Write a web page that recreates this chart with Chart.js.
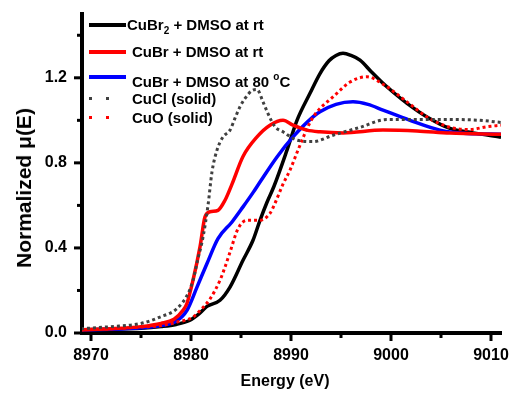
<!DOCTYPE html>
<html>
  <head>
    <script src="https://cdn.jsdelivr.net/npm/chart.js"></script>
    <meta charset="utf-8">
    <style>
      body { margin: 0; background: #fff; }
      .wrap { position: relative; width: 511px; height: 394px; font-family: Arial, "Liberation Sans", sans-serif; font-weight: bold; color: #000; }
      .wrap canvas { position: absolute; left: 0; top: 0; }
      .leg { position: absolute; font-size: 15px; line-height: 18px; white-space: nowrap; }
      .swatch { position: absolute; left: 89px; width: 37px; height: 4px; }
      .dot { position: absolute; width: 3px; height: 3px; }
      .ytitle { position: absolute; left: 24px; top: 188px; font-size: 21px; white-space: nowrap; transform: translate(-50%, -50%) rotate(-90deg); }
      .xtitle { position: absolute; left: 285px; top: 381px; font-size: 16px; white-space: nowrap; transform: translate(-50%, -50%); }
      sub { font-size: 10px; vertical-align: -4px; }
      sup { font-size: 10px; vertical-align: 7px; }
    </style>
  </head>
  <body>
    <div class="wrap">
      <canvas id="gura" width="511" height="394"></canvas>

      <!-- 凡例 -->
      <div class="swatch" style="top:23px;background:#000"></div>
      <div class="leg" style="left:127px;top:16px">CuBr<sub>2</sub> + DMSO at rt</div>
      <div class="swatch" style="top:50px;background:#ff0000"></div>
      <div class="leg" style="left:132px;top:43px">CuBr + DMSO at rt</div>
      <div class="swatch" style="top:75px;background:#0000ff"></div>
      <div class="leg" style="left:132px;top:68px">CuBr + DMSO at 80 <sup>o</sup>C</div>
      <div class="dot" style="left:89px;top:97px;background:#404040"></div>
      <div class="dot" style="left:106px;top:97px;background:#404040"></div>
      <div class="leg" style="left:132px;top:90px">CuCl (solid)</div>
      <div class="dot" style="left:89px;top:116px;background:#ff0000"></div>
      <div class="dot" style="left:106px;top:116px;background:#ff0000"></div>
      <div class="leg" style="left:132px;top:109px">CuO (solid)</div>

      <div class="ytitle">Normalized &mu;(E)</div>
      <div class="xtitle">Energy (eV)</div>
    </div>

    <script>
      // 目盛り
      const xMajorTicks = [8970, 8980, 8990, 9000, 9010];
      const xMinorTicks = [8975, 8985, 8995, 9005];
      const yMajorTicks = [0.0, 0.4, 0.8, 1.2];
      const yMinorTicks = [0.2, 0.6, 1.0, 1.4];

      // CuBr2 + DMSO at rt
      const cubr2E  = [8969, 8972, 8975, 8977, 8978.5, 8979.9, 8980.8, 8981.6, 8982.9, 8983.9, 8985.2, 8986.2, 8986.9, 8987.6, 8988.3, 8989.6, 8990.6, 8991.9, 8992.9, 8993.8, 8994.5, 8995.2, 8996.0, 8996.9, 8998.0, 8999.2, 9000.4, 9001.6, 9003.6, 9005.9, 9008.2, 9011];
      const cubr2Mu = [0.015, 0.018, 0.022, 0.03, 0.04, 0.06, 0.09, 0.125, 0.154, 0.216, 0.342, 0.436, 0.53, 0.615, 0.69, 0.86, 1.0, 1.127, 1.22, 1.28, 1.305, 1.315, 1.305, 1.283, 1.23, 1.174, 1.125, 1.08, 1.016, 0.962, 0.941, 0.92];

      // CuBr + DMSO at rt
      const cubrRtE  = [8969, 8972, 8975, 8977, 8978.3, 8979.2, 8979.6, 8980.2, 8980.9, 8981.4, 8981.9, 8982.7, 8983.4, 8984.1, 8985.2, 8986.6, 8987.9, 8989.2, 8990.2, 8991.6, 8992.9, 8995.2, 8999.2, 9002.6, 9005.9, 9011];
      const cubrRtMu = [0.015, 0.02, 0.03, 0.045, 0.065, 0.107, 0.14, 0.248, 0.405, 0.546, 0.57, 0.577, 0.624, 0.70, 0.83, 0.922, 0.977, 1.0, 0.977, 0.954, 0.946, 0.941, 0.954, 0.95, 0.94, 0.935];

      // CuBr + DMSO at 80 oC
      const cubr80E  = [8969, 8972, 8975, 8977, 8978.5, 8979.6, 8980.6, 8981.6, 8982.7, 8984.1, 8985.2, 8986.2, 8986.9, 8988.6, 8990.2, 8992.2, 8992.9, 8994.5, 8996.2, 8997.7, 8999.2, 9001.9, 9004.9, 9007.6, 9011];
      const cubr80Mu = [0.015, 0.018, 0.025, 0.035, 0.055, 0.107, 0.216, 0.327, 0.444, 0.522, 0.593, 0.66, 0.71, 0.828, 0.922, 1.016, 1.04, 1.075, 1.087, 1.075, 1.048, 1.0, 0.954, 0.938, 0.935];

      // CuCl (solid)
      const cuclE  = [8969, 8972, 8975, 8976.9, 8978.6, 8979.7, 8980.2, 8980.7, 8981.2, 8981.7, 8982.1, 8982.6, 8983.2, 8983.9, 8984.4, 8984.9, 8985.4, 8986.1, 8986.6, 8987.2, 8987.7, 8988.4, 8989.2, 8990.6, 8992.2, 8994.2, 8996.9, 8999.6, 9002.6, 9005.9, 9008.9, 9011];
      const cuclMu = [0.02, 0.03, 0.045, 0.075, 0.115, 0.185, 0.248, 0.35, 0.45, 0.6, 0.758, 0.86, 0.922, 0.954, 1.01, 1.064, 1.103, 1.14, 1.145, 1.087, 1.032, 0.97, 0.946, 0.907, 0.9, 0.93, 0.967, 1.004, 1.004, 1.004, 1.0, 0.99];

      // CuO (solid)
      const cuoE  = [8969, 8972, 8975, 8977, 8978.5, 8980.2, 8981.0, 8981.9, 8982.9, 8983.4, 8983.9, 8984.7, 8985.6, 8986.9, 8987.9, 8988.4, 8989.2, 8989.9, 8990.7, 8991.9, 8992.6, 8994.2, 8995.9, 8997.6, 8999.2, 9001.6, 9003.6, 9005.9, 9007.9, 9009.6, 9011];
      const cuoMu = [0.015, 0.02, 0.028, 0.035, 0.05, 0.075, 0.11, 0.16, 0.248, 0.31, 0.38, 0.49, 0.53, 0.53, 0.563, 0.61, 0.70, 0.766, 0.86, 0.99, 1.04, 1.11, 1.18, 1.205, 1.17, 1.087, 1.016, 0.967, 0.957, 0.97, 0.977];

      function toPoints(xs, ys) {
        return xs.map((x, i) => ({ x: x, y: ys[i] }));
      }

      function lineSet(label, xs, ys, color, dotted) {
        return {
          label: label,
          data: toPoints(xs, ys),
          showLine: true,
          borderColor: color,
          backgroundColor: color,
          borderWidth: dotted ? 3 : 3.5,
          borderDash: dotted ? [3, 3] : [],
          borderCapStyle: 'butt',
          pointRadius: 0,
          cubicInterpolationMode: 'monotone',
          fill: false
        };
      }

      // 目盛り線を自分で描く (大きい目盛りと小さい目盛り)
      const tickMarks = {
        id: 'tickMarks',
        afterDraw(chart) {
          const ctx = chart.ctx;
          const xs = chart.scales.x;
          const ys = chart.scales.y;
          const area = chart.chartArea;
          ctx.save();
          ctx.strokeStyle = '#000';
          const draw = (x1, y1, x2, y2, w) => {
            ctx.lineWidth = w;
            ctx.beginPath();
            ctx.moveTo(x1, y1);
            ctx.lineTo(x2, y2);
            ctx.stroke();
          };
          xMajorTicks.forEach(v => { const p = xs.getPixelForValue(v); draw(p, area.bottom, p, area.bottom + 8, 3); });
          xMinorTicks.forEach(v => { const p = xs.getPixelForValue(v); draw(p, area.bottom, p, area.bottom + 5, 3); });
          yMajorTicks.forEach(v => { const p = ys.getPixelForValue(v); draw(area.left, p, area.left - 8, p, 3); });
          yMinorTicks.forEach(v => { const p = ys.getPixelForValue(v); draw(area.left, p, area.left - 5, p, 3); });
          ctx.restore();
        }
      };

      const noPad = (scale) => {
        scale.paddingLeft = 0;
        scale.paddingRight = 0;
        scale.paddingTop = 0;
        scale.paddingBottom = 0;
      };

      const ctx = document.getElementById('gura').getContext('2d');
      new Chart(ctx, {
        type: 'scatter',
        data: {
          datasets: [
            lineSet('CuCl (solid)', cuclE, cuclMu, '#404040', true),
            lineSet('CuO (solid)', cuoE, cuoMu, '#ff0000', true),
            lineSet('CuBr + DMSO at rt', cubrRtE, cubrRtMu, '#ff0000', false),
            lineSet('CuBr + DMSO at 80 oC', cubr80E, cubr80Mu, '#0000ff', false),
            lineSet('CuBr2 + DMSO at rt', cubr2E, cubr2Mu, '#000000', false)
          ]
        },
        options: {
          responsive: false,
          animation: false,
          layout: { padding: { left: 0, right: 10, top: 14, bottom: 0 } },
          plugins: {
            legend: { display: false },
            tooltip: { enabled: false }
          },
          scales: {
            x: {
              type: 'linear',
              min: 8969.1,
              max: 9011,
              afterBuildTicks: (scale) => { scale.ticks = xMajorTicks.map(v => ({ value: v })); },
              afterFit: (scale) => { scale.height = 61; noPad(scale); },
              grid: { display: true, drawOnChartArea: false, drawTicks: false },
              border: { display: true, color: '#000', width: 4 },
              ticks: {
                color: '#000',
                padding: 13,
                maxRotation: 0,
                font: { family: 'Arial, "Liberation Sans"', size: 16, weight: 'bold' },
                callback: (v) => String(v)
              }
            },
            y: {
              type: 'linear',
              min: 0,
              max: 1.5,
              afterBuildTicks: (scale) => { scale.ticks = yMajorTicks.map(v => ({ value: v })); },
              afterFit: (scale) => { scale.width = 82; noPad(scale); },
              grid: { display: true, drawOnChartArea: false, drawTicks: false },
              border: { display: true, color: '#000', width: 4 },
              ticks: {
                color: '#000',
                padding: 15,
                font: { family: 'Arial, "Liberation Sans"', size: 16, weight: 'bold' },
                callback: (v) => Number(v).toFixed(1)
              }
            }
          }
        },
        plugins: [tickMarks]
      });
    </script>
  </body>
</html>
